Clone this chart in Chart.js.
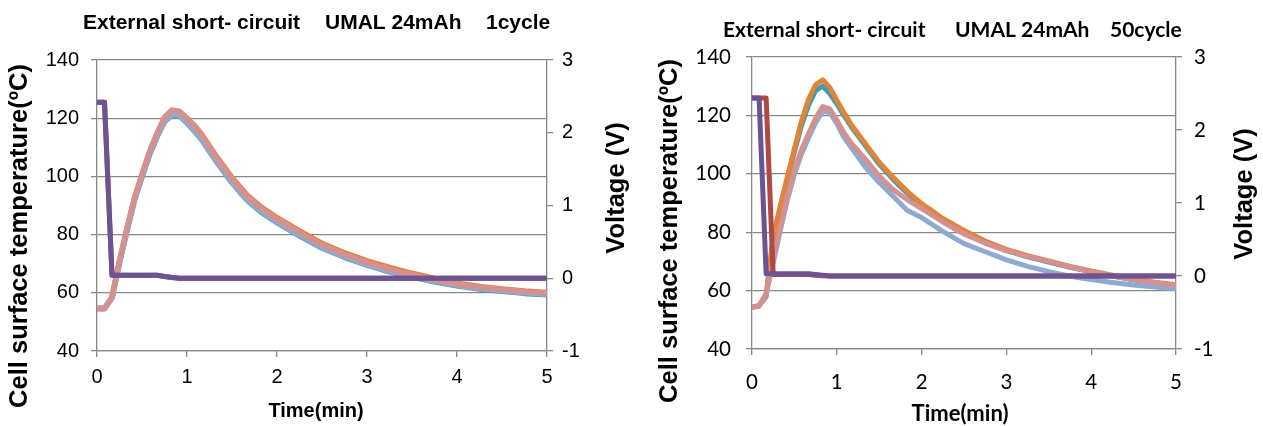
<!DOCTYPE html>
<html>
<head>
<meta charset="utf-8">
<script src="https://cdn.jsdelivr.net/npm/chart.js@4.4.1/dist/chart.umd.min.js"></script>
<style>
  html, body { margin: 0; padding: 0; background: #ffffff; }
  #wrap { position: relative; width: 1263px; height: 426px; overflow: hidden; }
  #c1 { position: absolute; left: 0; top: 0; }
  #c2 { position: absolute; left: 632px; top: 0; }
</style>
</head>
<body>
<div id="wrap">
  <canvas id="c1" width="632" height="426"></canvas>
  <canvas id="c2" width="631" height="426"></canvas>
</div>
<script>
// ---- data (time in seconds) ----
const timeSec = [0,5,10,15,20,25,30,35,40,45,50,55,60,65,70,80,90,100,110,120,135,150,165,180,195,210,225,240,255,270,285,300];

// 1 cycle chart: temperatures (°C)
const c1Teal   = [54.6,54.6,58.3,70.3,81.3,91.8,99.8,107.4,113.6,118.8,121.1,120.8,118.3,115.6,112.4,104.8,97.8,91.8,87.5,84.1,79.6,75.4,72.2,69.5,67.2,65.4,63.8,62.4,61.3,60.5,59.8,59.3];
const c1Orange = [54.6,54.6,58.5,71,82,92.5,100.5,108.3,114.6,120.1,122.6,122.3,120,117.5,114.3,106.6,99.6,93.6,89.3,85.8,81.3,77,73.7,71,68.7,66.7,64.9,63.3,62.2,61.3,60.6,60.1];
const c1Blue   = [54.6,54.6,58.3,70.5,81.5,92,100,107.6,113.8,119,121.3,121,118.5,115.8,112.6,105,98,92,87.7,84.3,79.8,75.6,72.4,69.7,67.4,65.6,64,62.6,61.5,60.7,60,59.5];
const c1Pink   = [54.6,54.6,58.5,71,82.2,92.7,100.7,108.5,114.8,120.3,122.8,122.3,119.9,117.3,114,106.2,99.2,93.2,88.9,85.3,80.8,76.5,73.2,70.4,68.1,66.2,64.5,63,61.9,61.1,60.4,59.9];
// 1 cycle chart: voltages (V)
const c1VRed    = [2.42,2.42,0.04,0.04,0.04,0.04,0.04,0.04,0.04,0.025,0.01,0,0,0,0,0,0,0,0,0,0,0,0,0,0,0,0,0,0,0,0,0];
const c1VPurple = [2.42,2.42,0.04,0.04,0.04,0.04,0.04,0.04,0.04,0.025,0.01,0,0,0,0,0,0,0,0,0,0,0,0,0,0,0,0,0,0,0,0,0];

// 50 cycle chart: temperatures (°C)
const c50Teal   = [54.3,54.8,58,77.5,88,98,107.5,116.5,123.5,128.5,130,127.5,124,120,116.3,109.8,103.3,98,93.3,89.2,84.2,80.1,76.6,73.7,71.6,69.8,68,66.4,65,63.7,62.6,61.7];
const c50Orange = [54.3,54.8,58.5,78.5,89,99,108.5,118,125.5,130.5,132.2,129.6,125.2,121,117,110.5,104,98.7,93.9,89.8,84.7,80.6,77,74.1,72,70.2,68.3,66.7,65.3,64,62.9,62];
const c50Blue   = [54.3,54.8,58.8,69.5,80.5,91,99.8,106.8,112.3,117.5,121.3,121,117.3,112.5,109.2,102.4,97,92.2,87.4,85,80.3,76.1,73.3,70.5,68.3,66.5,64.9,63.8,62.8,61.9,61.2,60.6];
const c50Pink   = [54.3,54.8,59,70.4,81.8,92.2,101.4,108.2,113.7,119,123,122.2,118.5,114.1,110.7,105.1,99.2,94.5,91.1,88.1,83.5,79.4,76.2,73.7,71.7,70,68.1,66.5,65,63.8,62.7,61.8];
// 50 cycle chart: voltages (V)
const c50VRed    = [2.44,2.44,2.44,0.02,0.02,0.02,0.02,0.02,0.02,0.01,0.005,0,0,0,0,0,0,0,0,0,0,0,0,0,0,0,0,0,0,0,0,0];
const c50VPurple = [2.44,2.44,0.03,0.03,0.03,0.03,0.03,0.03,0.03,0.02,0.01,0,0,0,0,0,0,0,0,0,0,0,0,0,0,0,0,0,0,0,0,0];

// axis tick ranges
const tempTicks = {min: 40, max: 140, step: 20};
const voltTicks = {min: -1, max: 3, step: 1};
const timeTicks = {min: 0, max: 5, step: 1};

// text
const titles1 = ["External short- circuit", "UMAL 24mAh", "1cycle"];
const titles50 = ["External short- circuit", "UMAL 24mAh", "50cycle"];
const yTitle = "Cell surface temperature(\u00BAC)";
const y2Title = "Voltage (V)";
const xTitle = "Time(min)";

// ---- helpers ----
const GRAY = '#888888';
const COL = {
  teal: '#3e9db3', orange: '#e0843a', blue: '#8eaad2', pink: '#d4918f',
  red: '#b04843', purple: '#6c5494'
};
function pts(vals) { return vals.map((v, i) => ({x: timeSec[i] / 60, y: v})); }
function ds(vals, color, axis, w) {
  return { data: pts(vals), borderColor: color, backgroundColor: color, borderWidth: w,
           pointRadius: 0, tension: 0, yAxisID: axis, borderJoinStyle: 'round', borderCapStyle: 'butt' };
}

function makeChart(id, sets, geom, fonts, texts) {
  const textPlugin = {
    id: 'texts',
    afterDraw(chart) {
      const ctx = chart.ctx;
      ctx.save();
      ctx.fillStyle = '#000';
      // title in segments
      ctx.font = fonts.title;
      ctx.textBaseline = 'middle';
      ctx.textAlign = 'left';
      texts.title.forEach((s, i) => ctx.fillText(s, geom.titleX[i], geom.titleY));
      // x title
      ctx.font = fonts.xTitle;
      ctx.textAlign = 'center';
      ctx.fillText(xTitle, geom.xTitle[0], geom.xTitle[1]);
      // y titles (rotated, reading upward)
      ctx.font = fonts.yTitle;
      [[yTitle, geom.yTitle], [y2Title, geom.y2Title]].forEach(([s, p]) => {
        ctx.save();
        ctx.translate(p[0], p[1]);
        ctx.rotate(-Math.PI / 2);
        ctx.textAlign = 'center';
        ctx.textBaseline = 'middle';
        ctx.fillText(s, 0, 0);
        ctx.restore();
      });
      ctx.restore();
    }
  };
  return new Chart(document.getElementById(id), {
    type: 'line',
    data: { datasets: sets },
    options: {
      responsive: false, animation: false, devicePixelRatio: 1,
      layout: { padding: { top: geom.top, left: 0, right: 0, bottom: 0 } },
      plugins: { legend: { display: false }, tooltip: { enabled: false }, title: { display: false } },
      scales: {
        x: {
          type: 'linear', min: timeTicks.min, max: timeTicks.max,
          ticks: { stepSize: timeTicks.step, font: fonts.tick, color: '#000', padding: geom.xPad, maxRotation: 0 },
          grid: { drawOnChartArea: false, tickLength: 6, color: GRAY, lineWidth: 1.3 },
          border: { color: GRAY, width: 1.3 },
          afterFit(s) { s.height = geom.xH; }
        },
        y: {
          position: 'left', min: tempTicks.min, max: tempTicks.max,
          ticks: { stepSize: tempTicks.step, font: fonts.tick, color: '#000', padding: geom.yPad },
          grid: { color: GRAY, lineWidth: 1.3, tickLength: 6 },
          border: { color: GRAY, width: 1.3 },
          afterFit(s) { s.width = geom.yW; }
        },
        y2: {
          position: 'right', min: voltTicks.min, max: voltTicks.max,
          ticks: { stepSize: voltTicks.step, font: fonts.tick, color: '#000', padding: geom.y2Pad },
          grid: { drawOnChartArea: false, color: GRAY, lineWidth: 1.3, tickLength: 6 },
          border: { color: GRAY, width: 1.3 },
          afterFit(s) { s.width = geom.y2W; }
        }
      }
    },
    plugins: [textPlugin]
  });
}

// chart 1 (1 cycle), canvas at page x=0
makeChart('c1', [
  ds(c1VPurple, COL.purple, 'y2', 5),
  ds(c1VRed, COL.red, 'y2', 5),
  ds(c1Pink, COL.pink, 'y', 5.5),
  ds(c1Blue, COL.blue, 'y', 5.5),
  ds(c1Orange, COL.orange, 'y', 5.5),
  ds(c1Teal, COL.teal, 'y', 5.5)
].map((d, i) => Object.assign(d, {order: i})), {
  top: 60, xH: 75, yW: 97, y2W: 85, xPad: 8, yPad: 12, y2Pad: 9,
  titleX: [83, 325, 486], titleY: 23,
  xTitle: [316, 411], yTitle: [20, 236], y2Title: [617, 188]
}, {
  tick: { family: 'Liberation Sans', size: 20 },
  title: 'bold 21px "Liberation Sans"',
  xTitle: 'bold 20px "Liberation Sans"',
  yTitle: 'bold 25.5px "Liberation Sans"'
}, { title: titles1 });

// chart 2 (50 cycle), canvas at page x=632
makeChart('c2', [
  ds(c50VPurple, COL.purple, 'y2', 5),
  ds(c50VRed, COL.red, 'y2', 5),
  ds(c50Pink, COL.pink, 'y', 5),
  ds(c50Blue, COL.blue, 'y', 5),
  ds(c50Orange, COL.orange, 'y', 5),
  ds(c50Teal, COL.teal, 'y', 5)
].map((d, i) => Object.assign(d, {order: i})), {
  top: 57, xH: 77, yW: 120, y2W: 87, xPad: 15, yPad: 15, y2Pad: 12,
  titleX: [91, 323, 478], titleY: 30,
  xTitle: [328, 414], yTitle: [38, 231], y2Title: [613, 194]
}, {
  tick: { family: 'Lato', size: 20.5 },
  title: 'bold 21px "Lato"',
  xTitle: 'bold 22px "Lato"',
  yTitle: 'bold 25.5px "Liberation Sans"'
}, { title: titles50 });
</script>
</body>
</html>
